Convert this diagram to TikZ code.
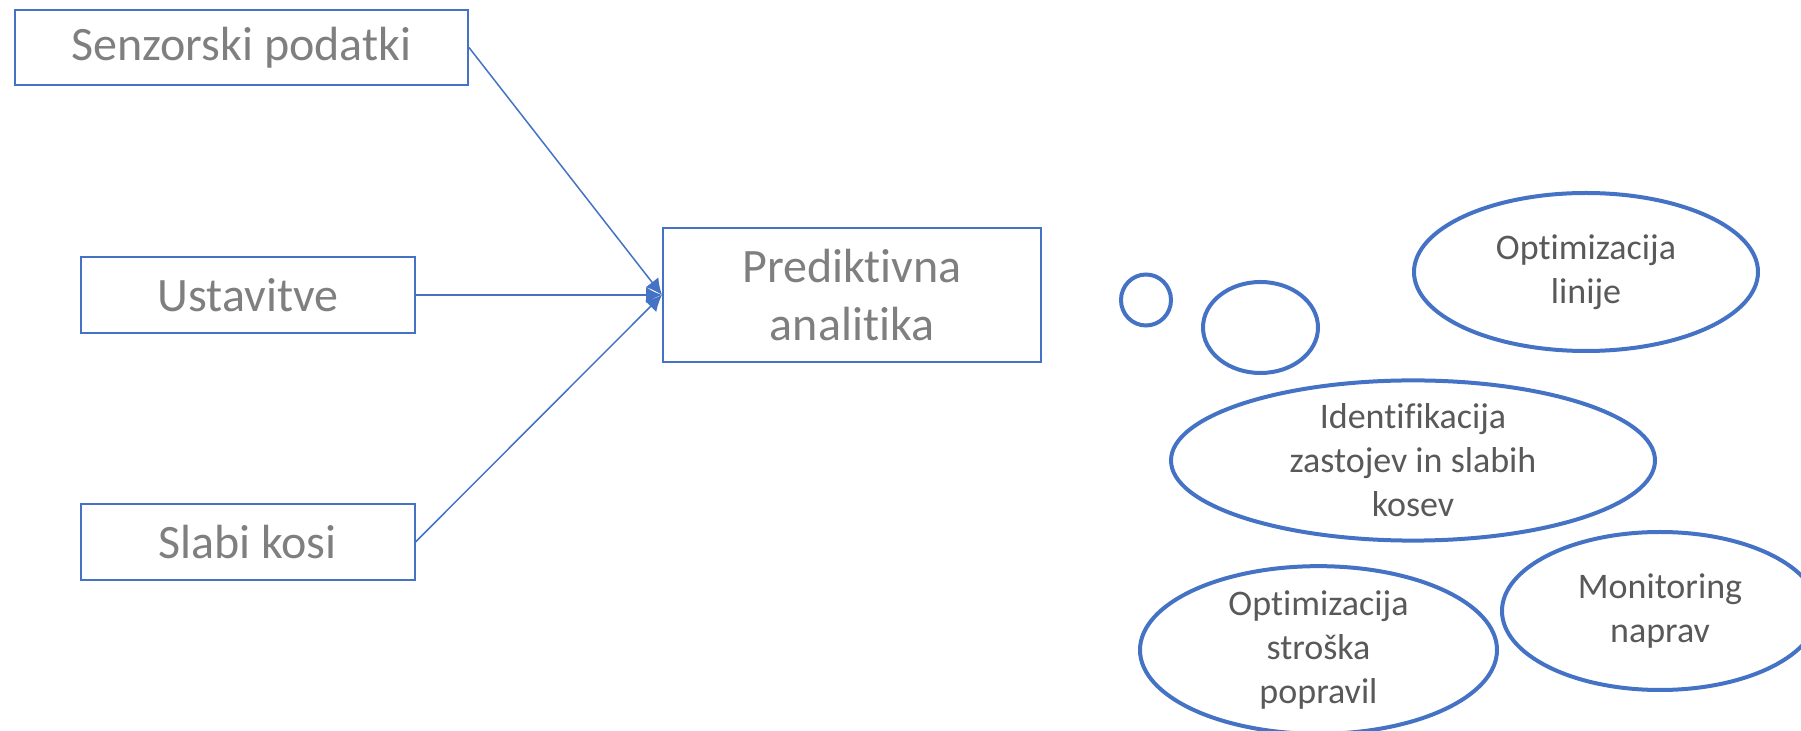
\documentclass[tikz,border=0pt]{standalone}
\usepackage{fontspec}
\setmainfont{Carlito}[Ligatures={NoCommon}]
\usepackage{tikz}
\usetikzlibrary{shapes.geometric, arrows.meta}
\definecolor{boxblue}{HTML}{4472C4}
\definecolor{boxgray}{HTML}{7F7F7F}
\definecolor{bubgray}{HTML}{595959}
\tikzstyle{inbox} = [rectangle, draw=boxblue, line width=1pt, text=boxgray, font=\fontsize{24}{29}\selectfont, align=center, inner sep=0pt]
\tikzstyle{bubble} = [ellipse, draw=boxblue, line width=2pt, text=bubgray, font=\fontsize{18}{22}\selectfont, align=center, inner sep=0pt]
\tikzstyle{arrow} = [line width=0.75pt, draw=boxblue, ->, >={Latex[length=8pt,width=8pt]}]

\begin{document}
\begin{tikzpicture}[x=0.5pt, y=-0.5pt]
            \useasboundingbox (0,0) rectangle (1801,731);
            % inputs
            \node (sensors) [inbox, minimum width=226.5pt, minimum height=37.5pt] at (241.5,47.5) {Senzorski podatki};
            \node (stops) [inbox, minimum width=167pt, minimum height=38pt] at (248,295) {Ustavitve};
            \node (weak) [inbox, minimum width=167pt, minimum height=38pt] at (247.5,542) {Slabi kosi};
            \node (pred) [inbox, minimum width=189pt, minimum height=67pt] at (852,295) {Prediktivna\\analitika};

            % thought bubbles
            \node (bubsmall) [bubble, minimum width=25pt, minimum height=25.5pt] at (1146,300) {};
            \node (bubmid) [bubble, minimum width=57.5pt, minimum height=45.5pt] at (1260.5,327.5) {};
            \node (lineopt) [bubble, minimum width=172pt, minimum height=79pt] at (1586,272) {Optimizacija\\linije};
            \node (ident) [bubble, minimum width=242pt, minimum height=79.5pt] at (1413,460.5) {Identifikacija\\zastojev in slabih\\kosev};
            \node (costopt) [bubble, minimum width=178.5pt, minimum height=77pt] at (1318.5,650) {Optimizacija\\stroška\\popravil};
            \node (monitor) [bubble, minimum width=158pt, minimum height=79pt] at (1660,611) {Monitoring\\naprav};

            \draw [arrow] (sensors.east) -- (pred.west);
            \draw [arrow] (stops.east) -- (pred.west);
            \draw [arrow] (weak.east) -- (pred.west);
        \end{tikzpicture}
\end{document}
